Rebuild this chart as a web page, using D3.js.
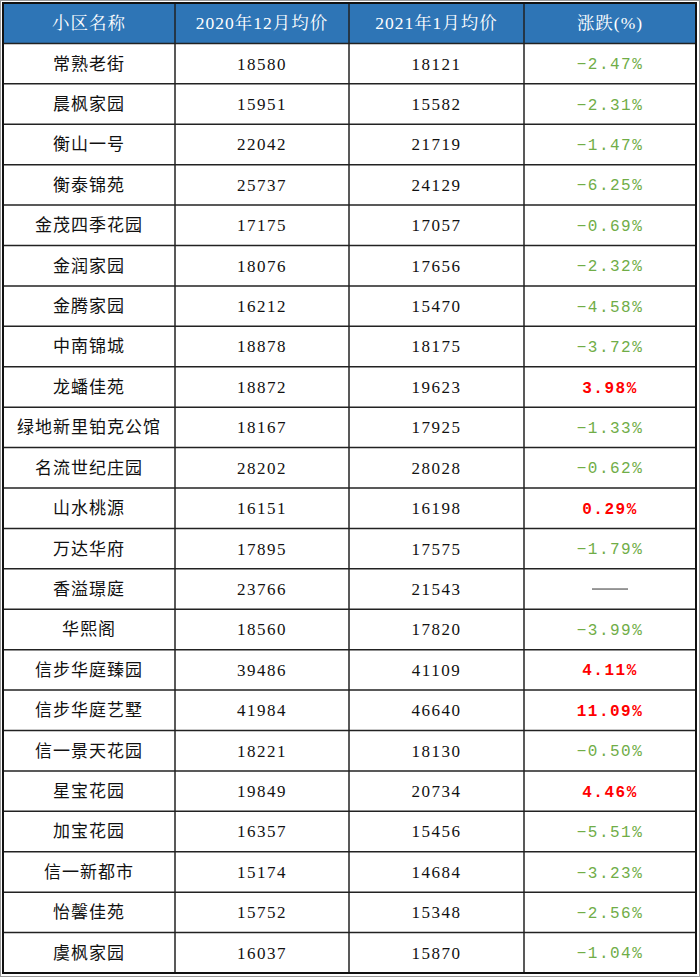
<!DOCTYPE html><html><head><meta charset="utf-8">
<script src="https://cdn.jsdelivr.net/npm/d3@7"></script>
<style>body{margin:0;background:#fff}</style></head><body>
<script>
const headers=["小区名称","2020年12月均价","2021年1月均价","涨跌(%)"];
const names=["常熟老街","晨枫家园","衡山一号","衡泰锦苑","金茂四季花园","金润家园","金腾家园","中南锦城","龙蟠佳苑","绿地新里铂克公馆","名流世纪庄园","山水桃源","万达华府","香溢璟庭","华熙阁","信步华庭臻园","信步华庭艺墅","信一景天花园","星宝花园","加宝花园","信一新都市","怡馨佳苑","虞枫家园"];
const dec=[18580,15951,22042,25737,17175,18076,16212,18878,18872,18167,28202,16151,17895,23766,18560,39486,41984,18221,19849,16357,15174,15752,16037];
const jan=[18121,15582,21719,24129,17057,17656,15470,18175,19623,17925,28028,16198,17575,21543,17820,41109,46640,18130,20734,15456,14684,15348,15870];
const change=[-2.47,-2.31,-1.47,-6.25,-0.69,-2.32,-4.58,-3.72,3.98,-1.33,-0.62,0.29,-1.79,null,-3.99,4.11,11.09,-0.50,4.46,-5.51,-3.23,-2.56,-1.04];
const W=700,H=977;
const svg=d3.select("body").append("svg").attr("width",W).attr("height",H);
svg.append("rect").attr("x",0.5).attr("y",0.5).attr("width",W-1).attr("height",H-1).attr("fill","none").attr("stroke","#999");
const L=3,R=696,T=3,B=973;
const colW=[172,174,175,172];
const edges=[L];colW.forEach(w=>edges.push(edges[edges.length-1]+w));
const cx=i=>(edges[i]+edges[i+1])/2;
const y=d3.scaleBand().domain(d3.range(24)).range([T,B]);
svg.append("rect").attr("x",L).attr("y",T).attr("width",R-L).attr("height",y.bandwidth()).attr("fill","#2E75B6");
const g=svg.append("g");
headers.forEach((h,i)=>g.append("text").attr("x",cx(i)).attr("y",y(0)+y.bandwidth()/2).attr("dy","0.35em").attr("text-anchor","middle")
 .attr("fill","#fff").attr("font-size",17.5).attr("letter-spacing",1).attr("font-family","Liberation Serif,Noto Serif CJK SC,Noto Sans CJK SC").text(h));
names.forEach((n,r)=>{
 const yy=y(r+1)+y.bandwidth()/2;
 const t=(i,s,fam)=>g.append("text").attr("x",cx(i)).attr("y",yy).attr("dy","0.35em").attr("text-anchor","middle").attr("font-size",17).attr("fill","#111").attr("font-family",fam).text(s);
 t(0,n,"Noto Sans CJK SC").attr("letter-spacing",1);
 t(1,dec[r],"Liberation Serif").attr("letter-spacing",1.5);
 t(2,jan[r],"Liberation Serif").attr("letter-spacing",1.5);
 const c=change[r];
 if(c===null){g.append("line").attr("x1",cx(3)-18).attr("x2",cx(3)+18).attr("y1",yy).attr("y2",yy).attr("stroke","#333");}
 else{const e=t(3,(c<0?"−":"")+Math.abs(c).toFixed(2)+"%","Liberation Mono").attr("font-size",16).attr("letter-spacing",1.5);
  if(c<0)e.attr("fill","#70AD47");else e.attr("fill","#FF0000").attr("font-weight","bold");}
});
for(let r=1;r<24;r++)svg.append("line").attr("x1",L).attr("x2",R).attr("y1",y(r)).attr("y2",y(r)).attr("stroke","#222").attr("stroke-width",1.5);
edges.slice(1,4).forEach(e=>svg.append("line").attr("x1",e).attr("x2",e).attr("y1",T).attr("y2",B).attr("stroke","#222").attr("stroke-width",1.5));
svg.append("rect").attr("x",L).attr("y",T).attr("width",R-L).attr("height",B-T).attr("fill","none").attr("stroke","#111").attr("stroke-width",2);
</script></body></html>
